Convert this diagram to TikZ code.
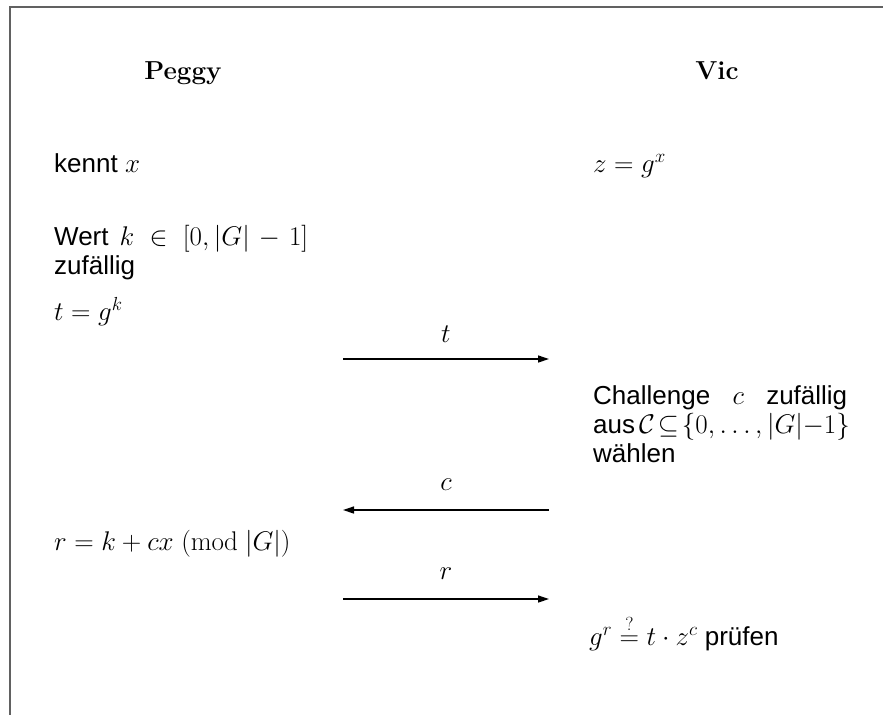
\RequirePackage{fix-cm}
\documentclass[tikz,border=0pt]{standalone}
\usepackage{fontspec}
\usepackage{amsmath,amssymb}
\setsansfont{Liberation Sans}[Scale=0.963]
\usetikzlibrary{arrows.meta}
\begin{document}
\begin{tikzpicture}[x=1pt,y=-1pt,
  frame/.style={draw=black!62, line width=2pt},
  actor/.style={font=\fontsize{26}{30}\selectfont\bfseries, inner sep=0pt, anchor=base},
  txt/.style={font=\fontsize{27}{29}\selectfont\sffamily, inner sep=0pt, anchor=base west},
  msg/.style={line width=1.3pt, -{Triangle[length=11pt,width=7pt]}},
  lbl/.style={font=\fontsize{27}{29}\selectfont, inner sep=0pt, anchor=base}]
\useasboundingbox (0,0) rectangle (883,715);
\coordinate (fTR) at (883,6.5);
\coordinate (fTL) at (9.5,6.5);
\coordinate (fBL) at (9.5,715);
\draw[frame] (fTR) -- (fTL) -- (fBL);
\node[actor] (peggy) at (183,79) {Peggy};
\node[actor] (vic) at (717,79) {Vic};
\node[txt] (kennt) at (54,172) {kennt $x$};
\node[txt] (z) at (593,172) {$z=g^x$};
\node[txt] (wert) at (54,245) {\parbox[t]{254pt}{Wert $k\in[0,|G|-1]$\linebreak zufällig}};
\node[txt] (tdef) at (54,320) {$t=g^k$};
\coordinate (t1) at (343,359);
\coordinate (t2) at (549,359);
\draw[msg] (t1) -- (t2);
\node[lbl] (tl) at (446,342) {$t$};
\node[txt] (chal) at (593,404) {\parbox[t]{254pt}{Challenge $c$ zufällig\linebreak
  \hbox to 254pt{aus\hspace{4pt plus 1fil}$\mathcal{C}\mkern2mu{\subseteq}\mkern2mu\{0,\ldots,|G|{-}1\}$}
  wählen}};
\coordinate (c1) at (549,510);
\coordinate (c2) at (343,510);
\draw[msg] (c1) -- (c2);
\node[lbl] (cl) at (446,490) {$c$};
\node[txt] (rdef) at (54,550) {$r=k+cx\;(\mathrm{mod}\ |G|)$};
\coordinate (r1) at (343,599);
\coordinate (r2) at (549,599);
\draw[msg] (r1) -- (r2);
\node[lbl] (rl) at (446,579) {$r$};
\node[txt] (check) at (589,645) {$g^r\overset{?}{=}t\cdot z^c$ prüfen};
\end{tikzpicture}
\end{document}
